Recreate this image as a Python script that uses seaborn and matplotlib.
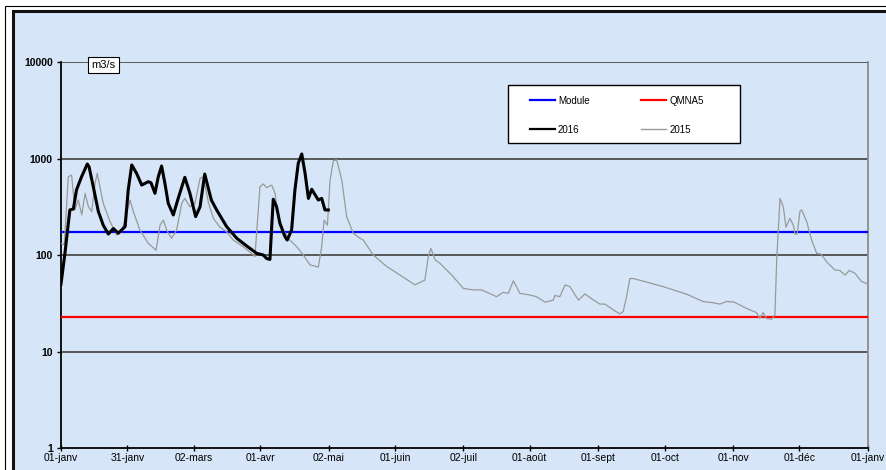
import pandas as pd
import numpy as np
import seaborn as sns
import matplotlib.pyplot as plt
from matplotlib.patches import Rectangle
from matplotlib.lines import Line2D

plt.rcParams['font.family'] = ['Liberation Sans', 'DejaVu Sans']

# Donnees (jour de l'annee, debit en m3/s)
jours_2016 = [0, 1.8, 4, 5.6, 7, 9.3, 11.9, 12.7, 14.6, 16.9, 19.1, 21.4, 23.7, 25.9, 29,
              30.4, 32, 34.2, 36.5, 39.5, 40.7, 42.5, 44, 45.5, 47, 48.5, 50.8, 53, 56, 58.3,
              60.9, 62.9, 65, 68, 70.4, 74.9, 79.5, 84, 88.5, 91.5, 93, 94.5, 95.3, 96, 97.5,
              99, 101.3, 102.3, 104.3, 105.8, 107.3, 108.9, 110.4, 111.9, 113.4, 115, 116.4,
              117.9, 119.4, 120.9]
debit_2016 = [50, 105, 293, 300, 472, 647, 877, 820, 510, 282, 204, 165, 188, 168, 197,
              472, 857, 700, 531, 575, 560, 436, 647, 836, 552, 343, 260, 386, 638, 436,
              250, 316, 690, 371, 293, 197, 149, 124, 104, 100, 92, 90, 197, 378, 316,
              213, 155, 143, 181, 472, 890, 1114, 700, 386, 480, 418, 371, 386, 293, 293]

jours_2015 = [0, 1.5, 3.3, 4.8, 6.3, 7.8, 9.4, 10.9, 12.4, 13.9, 15.4, 16.4, 17.6, 19.1, 22.2,
              25.2, 27.4, 29.7, 31.2, 32.7, 35.7, 39.5, 43, 44.8, 46.3, 47.8, 50, 52.3, 54.6, 56,
              58.3, 60.6, 62.9, 64.4, 66.6, 68.9, 71.9, 74.9, 77.9, 82.4, 87, 87.7, 88.8, 90, 91.5,
              93, 95.3, 96.8, 98.3, 100.5, 103.5, 106.6, 109.6, 112.6, 116.4, 117.9, 119, 120.5,
              121.7, 123.2, 124.7, 127, 129.2, 132.2, 135.2, 136.7, 141.2, 147.3, 153.3, 160.1,
              164.6, 166.1, 167.3, 169.2, 171.4, 176.7, 182, 186.5, 190.2, 197, 200, 202.3, 204.6,
              207.6, 212.1, 215, 219, 222.6, 223.4, 225.6, 228, 230.2, 234, 237, 239.4, 243.7,
              246, 249.8, 252.8, 254.3, 255.8, 257.3, 259, 272.4, 283, 290.5, 295, 298, 301,
              304.5, 310, 314.6, 316, 317.6, 319.1, 321.4, 322.9, 323.7, 325.2, 326.7, 327.9,
              329.7, 331.2, 332, 333, 334.2, 335, 337.3, 339.5, 341.8, 343.8, 346.3, 350, 352.3,
              354.6, 356.5, 359, 362.1, 365]
debit_2015 = [132, 128, 647, 672, 293, 371, 260, 436, 316, 282, 552, 700, 510, 343, 221,
              161, 174, 270, 371, 282, 181, 132, 112, 204, 230, 181, 149, 181, 343, 386,
              316, 343, 623, 647, 356, 240, 194, 174, 143, 122, 100, 96, 213, 510, 545,
              500, 530, 436, 250, 181, 143, 122, 100, 79, 75, 122, 230, 204, 598, 950,
              970, 598, 250, 168, 149, 143, 100, 76, 62, 49, 55, 96, 117, 89, 82,
              62, 45, 43.5, 43.5, 37, 41, 40, 54, 40, 38.5, 37, 32.4, 34, 38, 37,
              49, 47, 34, 39.5, 36, 31, 31, 27, 24.5, 26, 37, 57, 57, 47, 39.2,
              32.9, 32, 31, 33, 32.5, 28, 25.3, 22, 25.3, 22, 21.6, 24, 89, 386, 316,
              194, 240, 204, 165, 165, 282, 293, 221, 143, 104, 102, 85, 70, 69, 62,
              69, 65, 53, 50]

module = 175
qmna5 = 23

jours_ticks = [0, 30, 60, 90, 121, 151, 182, 212, 243, 273, 304, 334, 365]
labels_ticks = ['01-janv', '31-janv', '02-mars', '01-avr', '02-mai', '01-juin', '02-juil',
                '01-août', '01-sept', '01-oct', '01-nov', '01-déc', '01-janv']
y_ticks = [1, 10, 100, 1000, 10000]

df16 = pd.DataFrame({'jour': jours_2016, 'debit': debit_2016})
df15 = pd.DataFrame({'jour': jours_2015, 'debit': debit_2015})

fond = '#d6e6f8'
W, H = 887, 470
fig = plt.figure(figsize=(W / 100, H / 100), dpi=100)
fig.patch.set_facecolor('white')

# cadres exterieurs
fig.patches.append(Rectangle((5.5 / W, -0.1), 1.2, 1.1 - 5.5 / H, transform=fig.transFigure,
                             facecolor='white', edgecolor='black', lw=0.8, zorder=-2))
fig.patches.append(Rectangle((13.5 / W, -0.1), 1.2, 1.1 - 11.5 / H, transform=fig.transFigure,
                             facecolor=fond, edgecolor='#111111', lw=2.2, zorder=-1))

ax = fig.add_axes([61 / W, 1 - 448 / H, (868 - 61) / W, (448 - 62) / H])
ax.set_zorder(2)
ax.set_facecolor('none')

ax.axhline(module, color='#0000ff', lw=1.6, zorder=3)
ax.axhline(qmna5, color='#ff0000', lw=1.6, zorder=3)
sns.lineplot(data=df15, x='jour', y='debit', color='#999999', lw=0.9, sort=False,
             estimator=None, ax=ax, zorder=4)
sns.lineplot(data=df16, x='jour', y='debit', color='black', lw=2.2, sort=False,
             estimator=None, ax=ax, zorder=5)

ax.set_yscale('log')
ax.set_ylim(1, 10000)
ax.set_xlim(0, 365)
ax.set_yticks(y_ticks)
ax.set_yticklabels([str(v) for v in y_ticks], fontsize=7.5, fontweight='bold')
ax.yaxis.set_minor_locator(plt.NullLocator())
ax.set_xticks(jours_ticks)
ax.set_xticklabels(labels_ticks, fontsize=7.5)
ax.tick_params(axis='y', direction='out', length=3, width=1, pad=3)
ax.tick_params(axis='x', direction='inout', length=4, width=1, pad=1.5)
ax.set_xlabel('')
ax.set_ylabel('')

for v in y_ticks[1:]:
    ax.axhline(v, color='#4d4d4d', lw=1.3, zorder=2)

for s in ['left', 'bottom']:
    ax.spines[s].set_color('black')
    ax.spines[s].set_linewidth(1.3)
ax.spines['top'].set_visible(False)
ax.spines['right'].set_color('#8c8c8c')
ax.spines['right'].set_linewidth(1.3)

ax.text(0.0525, 0.992, 'm3/s', transform=ax.transAxes, ha='center', va='center', fontsize=8,
        bbox=dict(boxstyle='square,pad=0.3', facecolor='white', edgecolor='black', lw=0.8),
        zorder=6)

# cadre de la legende
ax.add_patch(Rectangle((0.554, 0.790), 0.287, 0.150, transform=ax.transAxes,
                       facecolor='white', edgecolor='black', lw=1.0, zorder=6))
handles = [Line2D([], [], color='#0000ff', lw=1.6), Line2D([], [], color='black', lw=1.6),
           Line2D([], [], color='#ff0000', lw=1.6), Line2D([], [], color='#999999', lw=1.0)]
noms = ['Module', '2016', 'QMNA5', '2015']
leg = ax.legend(handles, noms, ncol=2, loc='upper left', bbox_to_anchor=(0.581, 0.913),
                fontsize=7, frameon=False, handlelength=2.6, handletextpad=0.3,
                columnspacing=5.3, labelspacing=1.95, borderpad=0, borderaxespad=0)
leg.set_zorder(7)

plt.savefig('out.png', dpi=100)
